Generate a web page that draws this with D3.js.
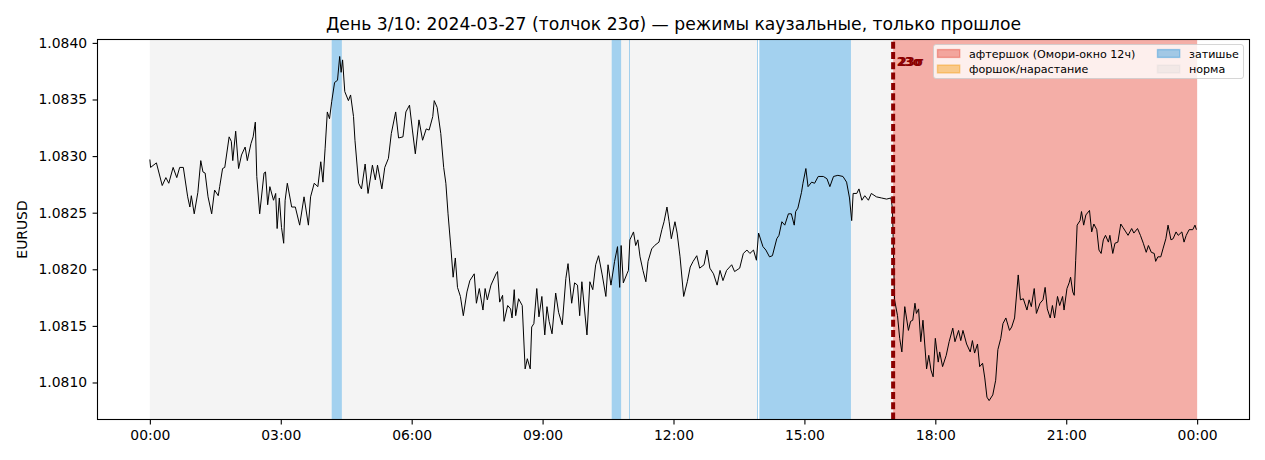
<!DOCTYPE html>
<html>
<head>
<meta charset="utf-8">
<script src="https://cdn.jsdelivr.net/npm/d3@7"></script>
<style>
	body { margin: 0; background: #fff; }
	svg { display: block; font-family: 'DejaVu Sans', sans-serif; }
</style>
</head>
<body>
<div class="chart"></div>
<script>
const width = 1265,
	height = 460

// minutes since 00:00 of 2024-03-27 and EURUSD close
const minutes = [
	0, 1, 9, 17, 22, 26, 32, 37, 41, 46, 52, 55, 57, 61, 66, 70, 73, 76, 80, 85,
	89, 94, 96, 100, 103, 109, 112, 114, 118, 122, 126, 131, 134, 139, 142, 145, 147, 151, 157, 159,
	162, 165, 170, 173, 175, 178, 181, 184, 186, 189, 195, 200, 206, 212, 218, 221, 226, 231, 235, 238,
	241, 244, 247, 250, 254, 258, 261, 263, 265, 268, 273, 276, 280, 282, 287, 291, 296, 300, 306, 310,
	313, 319, 323, 328, 332, 338, 342, 348, 352, 357, 361, 365, 370, 375, 380, 384, 389, 391, 395, 400,
	404, 407, 410, 414, 417, 420, 423, 427, 431, 436, 440, 446, 449, 453, 458, 461, 464, 469, 476, 478,
	481, 485, 487, 492, 496, 498, 501, 503, 507, 512, 516, 519, 523, 525, 528, 532, 535, 539, 543, 546,
	549, 553, 558, 562, 567, 572, 575, 580, 584, 588, 591, 594, 601, 605, 609, 613, 617, 622, 627, 630,
	634, 639, 643, 646, 648, 651, 656, 658, 660, 665, 668, 671, 674, 678, 682, 685, 690, 694, 700, 704, 707,
	711, 714, 717, 722, 725, 729, 734, 739, 743, 747, 752, 756, 762, 766, 770, 775, 780, 784, 788, 793,
	800, 804, 811, 816, 821, 825, 830, 834, 837, 843, 847, 852, 856, 862, 865, 869, 873, 878, 882, 886,
	888, 891, 896, 898, 902, 905, 910, 914, 919, 926, 931, 935, 940, 946, 953, 958, 962, 965, 967, 972,
	975, 979, 983, 988, 992, 999, 1006, 1013, 1019, 1021, 1022, 1024,
	1028, 1031, 1034, 1038, 1043, 1046, 1049, 1052, 1054, 1057, 1060, 1063, 1068, 1071, 1074, 1077, 1080, 1084, 1086, 1090,
	1095, 1099, 1104, 1107, 1112, 1115, 1118, 1123, 1128, 1131, 1134, 1138, 1141, 1145, 1148, 1151, 1154, 1159, 1163, 1166,
	1170, 1173, 1177, 1182, 1185, 1189, 1194, 1197, 1201, 1206, 1209, 1212, 1216, 1219, 1224, 1228, 1231, 1234, 1238, 1241,
	1244, 1248, 1251,
	1255, 1257, 1261, 1264, 1266, 1269, 1271, 1273, 1275, 1279, 1281, 1284, 1287, 1292, 1295, 1298, 1302, 1305, 1308, 1311,
	1314, 1318, 1320, 1324, 1327, 1331, 1335, 1338, 1342, 1345, 1350, 1353, 1358, 1362, 1366, 1370, 1373, 1377, 1381, 1383,
	1386, 1390, 1393, 1397, 1400, 1404, 1407, 1411, 1414, 1419, 1422, 1425, 1429, 1434, 1437, 1439,
]
const eurusd = [
	1.08297, 1.0829, 1.08294, 1.08274, 1.08281, 1.08276, 1.0829, 1.08281, 1.0829, 1.0829, 1.08264, 1.08255, 1.08265, 1.08249, 1.08268, 1.08296, 1.08286, 1.08285, 1.08264, 1.08249,
	1.0827, 1.08265, 1.08273, 1.08289, 1.0829, 1.08317, 1.08313, 1.08296, 1.08322, 1.08289, 1.08301, 1.08308, 1.08296, 1.08311, 1.08317, 1.0833, 1.08282, 1.08249, 1.08285, 1.08286,
	1.08257, 1.08273, 1.08261, 1.08267, 1.08236, 1.08263, 1.08237, 1.08223, 1.08261, 1.08276, 1.08255, 1.08255, 1.08239, 1.08264, 1.08239, 1.08264, 1.08276, 1.08273, 1.08295, 1.08277,
	1.08307, 1.08339, 1.08333, 1.08348, 1.08365, 1.08367, 1.08388, 1.08374, 1.08385, 1.08357, 1.08349, 1.08354, 1.08335, 1.08314, 1.08276, 1.08271, 1.08293, 1.08267, 1.08292, 1.08279,
	1.08292, 1.08271, 1.0829, 1.08298, 1.0832, 1.08339, 1.08316, 1.08317, 1.08339, 1.08345, 1.08323, 1.08302, 1.08332, 1.08314, 1.08324, 1.08323, 1.08335, 1.08349, 1.08343, 1.0832,
	1.0829, 1.08276, 1.08249, 1.08218, 1.08193, 1.0821, 1.08184, 1.08176, 1.08159, 1.0818, 1.0819, 1.08196, 1.0817, 1.08183, 1.08164, 1.08183, 1.08173, 1.08186, 1.08196, 1.08198,
	1.08171, 1.08177, 1.08154, 1.08168, 1.08165, 1.08157, 1.08182, 1.08159, 1.08174, 1.08168, 1.08112, 1.08121, 1.08112, 1.08149, 1.08152, 1.08183, 1.08158, 1.08176, 1.08142, 1.08167,
	1.08154, 1.08143, 1.08179, 1.08162, 1.08151, 1.08192, 1.08205, 1.0817, 1.08188, 1.08186, 1.08159, 1.08189, 1.08142, 1.08189, 1.08182, 1.08204, 1.08212, 1.08195, 1.08176, 1.08204,
	1.08186, 1.08207, 1.0822, 1.08184, 1.08221, 1.08188, 1.08196, 1.08199, 1.08226, 1.08233, 1.08221, 1.08226, 1.08211, 1.08199, 1.08189, 1.08207, 1.08218, 1.08221, 1.08224, 1.08235, 1.08242,
	1.08255, 1.08242, 1.08227, 1.08242, 1.08232, 1.08211, 1.08176, 1.08189, 1.08202, 1.08207, 1.08212, 1.08201, 1.08204, 1.08217, 1.08201, 1.08196, 1.08186, 1.08199, 1.0819, 1.08199,
	1.08204, 1.08198, 1.08201, 1.08214, 1.08217, 1.08214, 1.08217, 1.08208, 1.08232, 1.0822, 1.08217, 1.08211, 1.08212, 1.08227, 1.0823, 1.08242, 1.08239, 1.08249, 1.08249, 1.08239,
	1.08251, 1.08254, 1.08268, 1.08276, 1.08289, 1.08273, 1.08277, 1.08276, 1.08282, 1.08282, 1.0828, 1.08273, 1.08282, 1.08283, 1.08282, 1.08277, 1.08263, 1.08243, 1.08267, 1.08267,
	1.08271, 1.08261, 1.08265, 1.08261, 1.08267, 1.08264, 1.08263, 1.08262, 1.08263, 1.08254, 1.08229, 1.08173,
	1.08159, 1.08139, 1.08127, 1.08167, 1.08146, 1.08154, 1.08155, 1.0817, 1.08161, 1.08165, 1.08136, 1.08155, 1.08112, 1.08124, 1.08111, 1.08105, 1.08139, 1.08118, 1.08127, 1.08114,
	1.08124, 1.08136, 1.08148, 1.08136, 1.08146, 1.08137, 1.08146, 1.08134, 1.08127, 1.08137, 1.08126, 1.08134, 1.08114, 1.08117, 1.08104, 1.08087, 1.08084, 1.08089, 1.08102, 1.08129,
	1.08139, 1.08152, 1.08157, 1.08146, 1.08149, 1.08157, 1.08195, 1.08173, 1.08174, 1.08164, 1.08173, 1.08167, 1.08183, 1.08161, 1.0817, 1.08173, 1.08184, 1.08165, 1.08157, 1.08168,
	1.08157, 1.08176, 1.08168,
	1.08176, 1.08164, 1.08183, 1.08188, 1.08193, 1.0818, 1.08177, 1.08208, 1.08239, 1.08243, 1.08251, 1.08239, 1.08248, 1.08252, 1.08233, 1.0824, 1.08235, 1.08217, 1.08214, 1.08226,
	1.0823, 1.08224, 1.0823, 1.08214, 1.08223, 1.08224, 1.0824, 1.08237, 1.08233, 1.0823, 1.08236, 1.08232, 1.08236, 1.0823, 1.08223, 1.08215, 1.08221, 1.08215, 1.08214, 1.08207,
	1.08211, 1.08211, 1.08218, 1.08227, 1.08239, 1.08226, 1.08227, 1.08233, 1.0823, 1.08233, 1.08224, 1.0823, 1.08235, 1.08235, 1.08239, 1.08235,
]

// regime segments (minutes)
const regimeStart = [0, 250, 264, 635, 648, 659, 660, 835, 838, 964, 1022]
const regimeEnd = [250, 264, 635, 648, 659, 660, 835, 836, 964, 1022, 1440]
const regimeType = ['normal', 'quiet', 'normal', 'quiet', 'normal', 'quiet', 'normal', 'quiet', 'quiet', 'normal', 'aftershock']

const shockMinute = 1022
const shockLabel = '23σ'

const legendKeys = ['aftershock', 'foreshock', 'quiet', 'normal']
const legendLabels = ['афтершок (Омори-окно 12ч)', 'форшок/нарастание', 'затишье', 'норма']

const xTicks = [0, 180, 360, 540, 720, 900, 1080, 1260, 1440]
const yTicks = [1.081, 1.0815, 1.082, 1.0825, 1.083, 1.0835, 1.084]

const regimeColor = { aftershock: '#e74c3c', foreshock: '#f39c12', quiet: '#3498db', normal: 'lightgrey' }
const regimeAlpha = { aftershock: 0.45, foreshock: 0.45, quiet: 0.45, normal: 0.25 }

const margin = { top: 39.5, right: 15.5, bottom: 40.5, left: 97.5 }

const svg = d3.select('.chart').append('svg').attr('width', width).attr('height', height)

const x = d3.scaleLinear().domain([-72, 1512]).range([margin.left, width - margin.right])
const y = d3.scaleLinear().domain([1.080673, 1.08403]).range([height - margin.bottom, margin.top])

// regime bands; one-minute spans get snapped to a full pixel so they stay visible
const bandX = i => {
	const w = x(regimeEnd[i]) - x(regimeStart[i])
	return w < 1 ? Math.floor(x(regimeStart[i])) : x(regimeStart[i])
}
svg
	.append('g')
	.selectAll('rect')
	.data(regimeType)
	.enter()
	.append('rect')
	.attr('x', (d, i) => bandX(i))
	.attr('y', margin.top)
	.attr('width', (d, i) => Math.max(1, x(regimeEnd[i]) - x(regimeStart[i])))
	.attr('height', height - margin.bottom - margin.top)
	.attr('fill', d => regimeColor[d])
	.attr('fill-opacity', d => regimeAlpha[d])
	.attr('shape-rendering', (d, i) => (x(regimeEnd[i]) - x(regimeStart[i]) < 1 ? 'crispEdges' : null))

// price line
const line = d3
	.line()
	.x((d, i) => x(minutes[i]))
	.y(d => y(d))

svg
	.append('path')
	.datum(eurusd)
	.attr('fill', 'none')
	.attr('stroke', '#000')
	.attr('stroke-width', 1)
	.attr('stroke-linejoin', 'round')
	.attr('d', line)

// shock marker, dashes start from the bottom like axvline
svg
	.append('line')
	.attr('x1', x(shockMinute))
	.attr('x2', x(shockMinute))
	.attr('y1', height - margin.bottom)
	.attr('y2', margin.top)
	.attr('stroke', '#8b0000')
	.attr('stroke-width', 4)
	.attr('stroke-dasharray', '7,3.3')

;[3.5, 5.5].forEach(off => {
	svg
		.append('text')
		.attr('x', x(shockMinute) + off)
		.attr('y', 66)
		.attr('fill', '#8b0000')
		.style('font-size', '11.5px')
		.style('font-weight', 'bold')
		.text(shockLabel)
})

// axes
const fmtTime = m => {
	const h = Math.floor(m / 60) % 24
	return String(h).padStart(2, '0') + ':' + String(m % 60).padStart(2, '0')
}

const xAxis = svg
	.append('g')
	.attr('transform', `translate(0,${height - margin.bottom})`)
	.call(d3.axisBottom(x).tickValues(xTicks).tickFormat(fmtTime).tickSize(4.9).tickPadding(6).tickSizeOuter(0))

const yAxis = svg
	.append('g')
	.attr('transform', `translate(${margin.left},0)`)
	.call(d3.axisLeft(y).tickValues(yTicks).tickFormat(d3.format('.4f')).tickSize(4.9).tickPadding(5.5).tickSizeOuter(0))

;[xAxis, yAxis].forEach(g => {
	g.select('.domain').remove()
	g.selectAll('text').style('font-size', '13.9px').style('font-family', 'DejaVu Sans').attr('fill', '#000')
	g.selectAll('line').attr('stroke', '#000').attr('stroke-width', 1.1)
})

// frame
svg
	.append('rect')
	.attr('x', margin.left)
	.attr('y', margin.top)
	.attr('width', width - margin.right - margin.left)
	.attr('height', height - margin.bottom - margin.top)
	.attr('fill', 'none')
	.attr('stroke', '#000')
	.attr('stroke-width', 1.1)

// title
svg
	.append('text')
	.attr('x', (margin.left + width - margin.right) / 2)
	.attr('y', 30)
	.attr('text-anchor', 'middle')
	.style('font-size', '17.2px')
	.text('День 3/10: 2024-03-27 (толчок 23σ) — режимы каузальные, только прошлое')

// y label
svg
	.append('text')
	.attr('transform', `translate(27,${(margin.top + height - margin.bottom) / 2}) rotate(-90)`)
	.attr('text-anchor', 'middle')
	.style('font-size', '13.9px')
	.text('EURUSD')

// legend
const legend = svg.append('g').attr('transform', 'translate(933.5,44.5)')

legend
	.append('rect')
	.attr('width', 310)
	.attr('height', 34)
	.attr('rx', 2.5)
	.attr('fill', '#fff')
	.attr('fill-opacity', 0.8)
	.attr('stroke', '#cccccc')
	.attr('stroke-opacity', 0.8)
	.attr('stroke-width', 1)

const colX = [4, 224]
legendKeys.forEach((key, i) => {
	const cx = colX[Math.floor(i / 2)]
	const cy = i % 2 === 0 ? 9 : 24.5
	legend
		.append('rect')
		.attr('x', cx)
		.attr('y', cy - 3.9)
		.attr('width', 22.2)
		.attr('height', 7.8)
		.attr('fill', regimeColor[key])
		.attr('fill-opacity', regimeAlpha[key])
		.attr('stroke', regimeColor[key])
		.attr('stroke-opacity', regimeAlpha[key])
		.attr('stroke-width', 1.4)
	legend
		.append('text')
		.attr('x', cx + 31.5)
		.attr('y', cy + 4)
		.style('font-size', '11.1px')
		.text(legendLabels[i])
})
</script>
</body>
</html>
